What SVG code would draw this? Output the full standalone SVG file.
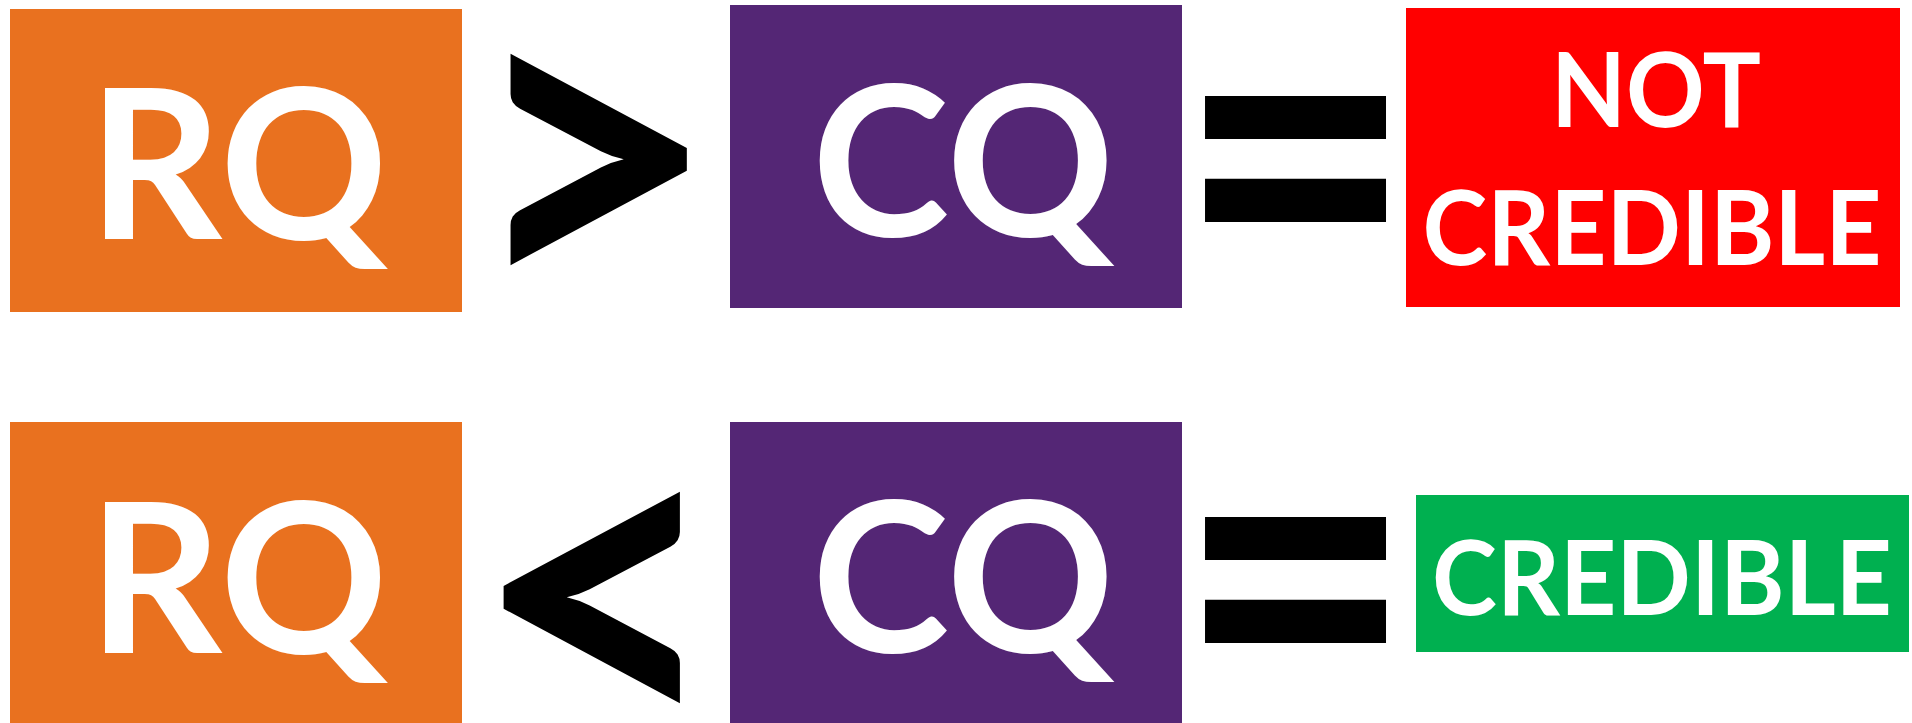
<svg xmlns="http://www.w3.org/2000/svg" width="1912" height="723" viewBox="0 0 1912 723">
<style>
.lbl{font-family:Lato,"Open Sans","Liberation Sans",sans-serif;font-weight:700;fill:#ffffff;text-anchor:middle}
.big{font-size:208px}
.mid{font-size:103px}
.sym{font-family:Lato,"Open Sans","Liberation Sans",sans-serif;font-weight:700;fill:#000000;text-anchor:middle}
.orange{fill:#E9711F}
.purple{fill:#542675}
.red{fill:#FF0000}
.green{fill:#00B050}
</style>
<rect width="1912" height="723" fill="#ffffff"/>
<g id="rq-top"><rect class="orange" x="10" y="9" width="452" height="303"/><text class="lbl big" x="238" y="239">RQ</text></g>
<g id="gt"><text class="sym" font-size="456" transform="translate(591.5,313) scale(0.975,1)">&gt;</text></g>
<g id="cq-top"><rect class="purple" x="730" y="5" width="452" height="303"/><text class="lbl big" x="963" y="236">CQ</text></g>
<g id="eq-top"><text class="sym" font-size="417" transform="translate(1295.5,316.7) scale(0.98,1.126)">=</text></g>
<g id="not-credible"><rect class="red" x="1406" y="8" width="494" height="299"/><text class="lbl mid" x="1656" y="127" textLength="210" lengthAdjust="spacingAndGlyphs">NOT</text><text class="lbl mid" x="1652" y="265" textLength="459" lengthAdjust="spacingAndGlyphs">CREDIBLE</text></g>
<g id="rq-bottom"><rect class="orange" x="10" y="422" width="452" height="301"/><text class="lbl big" x="238" y="653">RQ</text></g>
<g id="lt"><text class="sym" font-size="456" transform="translate(599,751) scale(0.975,1)">&lt;</text></g>
<g id="cq-bottom"><rect class="purple" x="730" y="422" width="452" height="301"/><text class="lbl big" x="963" y="652">CQ</text></g>
<g id="eq-bottom"><text class="sym" font-size="417" transform="translate(1295.5,737.7) scale(0.98,1.126)">=</text></g>
<g id="credible"><rect class="green" x="1416" y="495" width="493" height="157"/><text class="lbl mid" x="1662" y="615" textLength="460" lengthAdjust="spacingAndGlyphs">CREDIBLE</text></g>
<g id="connectors"></g>
</svg>
